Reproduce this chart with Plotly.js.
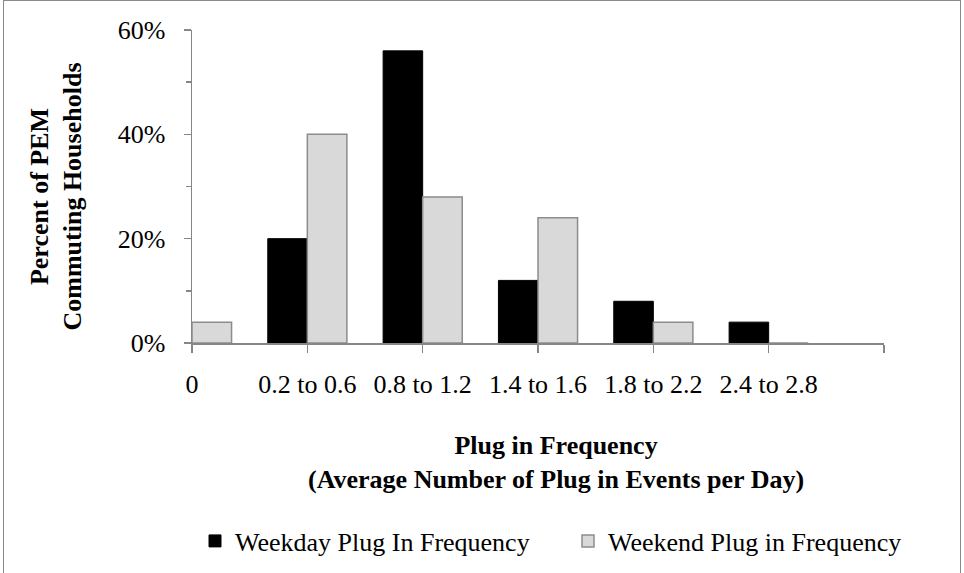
<!DOCTYPE html>
<html><head><meta charset="utf-8">
<script src="https://cdn.plot.ly/plotly-3.0.1.min.js"></script>
<style>
html,body{margin:0;padding:0;background:#fff;overflow:hidden}
#frame{position:absolute;left:3px;top:0;width:958px;height:600px;border:1.5px solid #8a8a8a;pointer-events:none;box-sizing:border-box}
</style>
</head><body>
<div id="chart" style="width:964px;height:573px"></div>
<div id="frame"></div>
<script>
const categories = ["0", "0.2 to 0.6", "0.8 to 1.2", "1.4 to 1.6", "1.8 to 2.2", "2.4 to 2.8"];
const weekday = [0, 20, 56, 12, 8, 4];
const weekend = [4, 40, 28, 24, 4, 0];
const yTicks = [0, 20, 40, 60];
const yTickLabels = ["0%", "20%", "40%", "60%"];
const yMinorTicks = [10, 30, 50];
const seriesNames = ["Weekday Plug In Frequency", "Weekend Plug in Frequency"];
const xTitleLines = ["Plug in Frequency", "(Average Number of Plug in Events per Day)"];
const yTitleLines = ["Percent of PEM", "Commuting Households"];

const FONT = 'Liberation Serif, Times New Roman, serif';
const AX = '#868686';
const pos = categories.map((c, i) => i);
const tickPos = categories.concat([""]).map((c, i) => i);

const traces = [
  {type: 'bar', x: pos, y: weekday, name: seriesNames[0], legend: 'legend',
   marker: {color: '#000000', line: {color: '#000000', width: 1}}},
  {type: 'bar', x: pos, y: weekend, name: seriesNames[1], legend: 'legend2',
   marker: {color: '#d9d9d9', line: {color: '#8c8c8c', width: 1.5}}}
];

const legendBase = {orientation: 'h', xref: 'container', yref: 'container',
  y: 1 - 541/573, xanchor: 'left', yanchor: 'middle',
  font: {family: FONT, size: 26, color: '#000'}, bgcolor: 'rgba(0,0,0,0)'};

const layout = {
  width: 964, height: 573,
  margin: {l: 192, r: 80, t: 30, b: 230},
  paper_bgcolor: '#ffffff', plot_bgcolor: '#ffffff',
  font: {family: FONT, size: 26, color: '#000000'},
  barmode: 'group', bargap: 0.314, bargroupgap: 0,
  showlegend: true,
  legend: Object.assign({}, legendBase, {x: 195/964}),
  legend2: Object.assign({}, legendBase, {x: 568/964}),
  xaxis: {range: [0, 6], tickmode: 'array', tickvals: tickPos, ticktext: categories.concat([""]),
          ticks: 'outside', ticklen: 8, tickwidth: 1.5, tickcolor: AX,
          showline: true, linecolor: AX, linewidth: 1.5, showgrid: false, zeroline: false,
          tickfont: {family: FONT, size: 26, color: '#000'}, ticklabelstandoff: 9, fixedrange: true},
  yaxis: {range: [0, 60], tickmode: 'array', tickvals: yTicks, ticktext: yTickLabels,
          ticks: 'outside', ticklen: 7, tickwidth: 1.5, tickcolor: AX,
          minor: {tickmode: 'array', tickvals: yMinorTicks, ticks: 'outside', ticklen: 5, tickwidth: 1.5, tickcolor: AX},
          showline: true, linecolor: AX, linewidth: 1.5, showgrid: false, zeroline: false,
          tickfont: {family: FONT, size: 26, color: '#000'}, ticklabelstandoff: 13, fixedrange: true},
  annotations: [
    {xref: 'paper', yref: 'paper', x: (556 - 192) / 692, y: (343 - 462) / 313,
     xanchor: 'center', yanchor: 'middle', showarrow: false, align: 'center',
     text: '<b>' + xTitleLines.join('<br>') + '</b>',
     font: {family: FONT, size: 26, color: '#000'}},
    {xref: 'paper', yref: 'paper', x: (56 - 192) / 692, y: (343 - 196.5) / 313,
     xanchor: 'center', yanchor: 'middle', showarrow: false, textangle: -90, align: 'center',
     text: '<b>' + yTitleLines.join('<br>') + '</b>',
     font: {family: FONT, size: 26, color: '#000'}}
  ]
};

Plotly.newPlot('chart', traces, layout, {staticPlot: true, displayModeBar: false});
</script>
</body></html>
